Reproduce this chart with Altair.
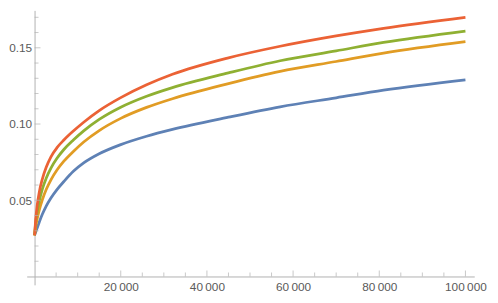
import altair as alt
import pandas as pd

# ---- data ----
x_common = [0, 250, 600, 1100, 1800, 2700, 3800, 5200, 6800, 9000, 11400, 15000, 20000,
            26000, 32000, 45000, 57000, 70000, 81000, 100000]

x_blue = x_common
y_blue = [0.027, 0.029, 0.0318, 0.0358, 0.0408, 0.0462, 0.0515, 0.057, 0.0623, 0.069, 0.0745,
          0.0805, 0.0865, 0.092, 0.0965, 0.1045, 0.1113, 0.1172, 0.1222, 0.129]

x_orange = x_common
y_orange = [0.027, 0.0325, 0.0377, 0.0437, 0.0503, 0.057, 0.0634, 0.0698, 0.0756, 0.082, 0.0882,
            0.0957, 0.1037, 0.1109, 0.1166, 0.1265, 0.1345, 0.141, 0.1465, 0.154]

x_green = x_common
y_green = [0.027, 0.035, 0.0424, 0.0496, 0.0573, 0.0645, 0.0711, 0.0775, 0.0833, 0.0895, 0.0955,
           0.103, 0.111, 0.1182, 0.1239, 0.1335, 0.1415, 0.148, 0.1535, 0.161]

x_red = x_common
y_red = [0.027, 0.037, 0.0465, 0.0555, 0.0639, 0.0716, 0.0785, 0.0845, 0.0895, 0.0954, 0.1012,
         0.1088, 0.1173, 0.1257, 0.1326, 0.1434, 0.151, 0.1578, 0.1628, 0.170]

series_names = ["s1", "s2", "s3", "s4"]
series_colors = ["#5E81B5", "#E19C24", "#8FB032", "#EB6235"]

x_major_ticks = [20000, 40000, 60000, 80000, 100000]
x_minor_ticks = [5000, 10000, 15000, 25000, 30000, 35000, 45000, 50000, 55000,
                 65000, 70000, 75000, 85000, 90000, 95000]
y_major_ticks = [0.05, 0.10, 0.15]
y_minor_ticks = [0.01, 0.02, 0.03, 0.04, 0.06, 0.07, 0.08, 0.09,
                 0.11, 0.12, 0.13, 0.14, 0.16, 0.17]

x_domain = [-1830, 102050]
y_domain = [-0.00548, 0.17452]

# ---- build tables ----
frames = []
for name, xs, ys in zip(series_names,
                        [x_blue, x_orange, x_green, x_red],
                        [y_blue, y_orange, y_green, y_red]):
    frames.append(pd.DataFrame({"x": xs, "y": ys, "series": name}))
df = pd.concat(frames, ignore_index=True)

xscale = alt.Scale(domain=x_domain, nice=False, zero=False)
yscale = alt.Scale(domain=y_domain, nice=False, zero=False)

AXIS_COLOR = "#b0b0b0"
LABEL_COLOR = "#5a5a5a"

xaxis = alt.Axis(
    values=x_major_ticks, title=None, grid=False, ticks=False, tickSize=0,
    offset=-8.5, domainColor=AXIS_COLOR, labelColor=LABEL_COLOR,
    labelFontSize=12, labelFont="Liberation Sans", labelPadding=5,
    labelFlush=False, labelOverlap=False,
    labelExpr="replace(format(datum.value, ','), ',', '\u2009')")
yaxis = alt.Axis(
    values=y_major_ticks, title=None, grid=False, ticks=False, tickSize=0,
    offset=-8, domainColor=AXIS_COLOR, labelColor=LABEL_COLOR,
    labelFontSize=12, labelFont="Liberation Sans", labelPadding=3,
    labelFlush=False, labelOverlap=False, format=".2f")

lines = alt.Chart(df).mark_line(strokeWidth=2.8, interpolate="monotone").encode(
    x=alt.X("x:Q", scale=xscale, axis=xaxis, title=None),
    y=alt.Y("y:Q", scale=yscale, axis=yaxis, title=None),
    color=alt.Color("series:N", scale=alt.Scale(domain=series_names, range=series_colors), legend=None),
    order=alt.Order("x:Q"),
)


def xticks(vals, length):
    return alt.Chart(pd.DataFrame({"v": vals})).mark_tick(
        orient="vertical", size=length, thickness=1, color=AXIS_COLOR, yOffset=-length / 2
    ).encode(
        x=alt.X("v:Q", scale=xscale, axis=xaxis, title=None),
        y=alt.YDatum(0, type="quantitative", scale=yscale, axis=yaxis, title=None),
    )


def yticks(vals, length):
    return alt.Chart(pd.DataFrame({"v": vals})).mark_tick(
        orient="horizontal", size=length, thickness=1, color=AXIS_COLOR, xOffset=length / 2
    ).encode(
        y=alt.Y("v:Q", scale=yscale, axis=yaxis, title=None),
        x=alt.XDatum(0, type="quantitative", scale=xscale, axis=xaxis, title=None),
    )


chart = alt.layer(
    lines,
    xticks(x_major_ticks, 6), xticks(x_minor_ticks, 4),
    yticks(y_major_ticks, 6), yticks(y_minor_ticks, 4),
).properties(
    width=455, height=279,
    autosize=alt.AutoSizeParams(type="none"),
    padding={"left": 19, "top": 0, "right": 16, "bottom": 16},
).configure_view(stroke=None)

chart.save("out.html", embed_options={"renderer": "svg", "actions": False})
